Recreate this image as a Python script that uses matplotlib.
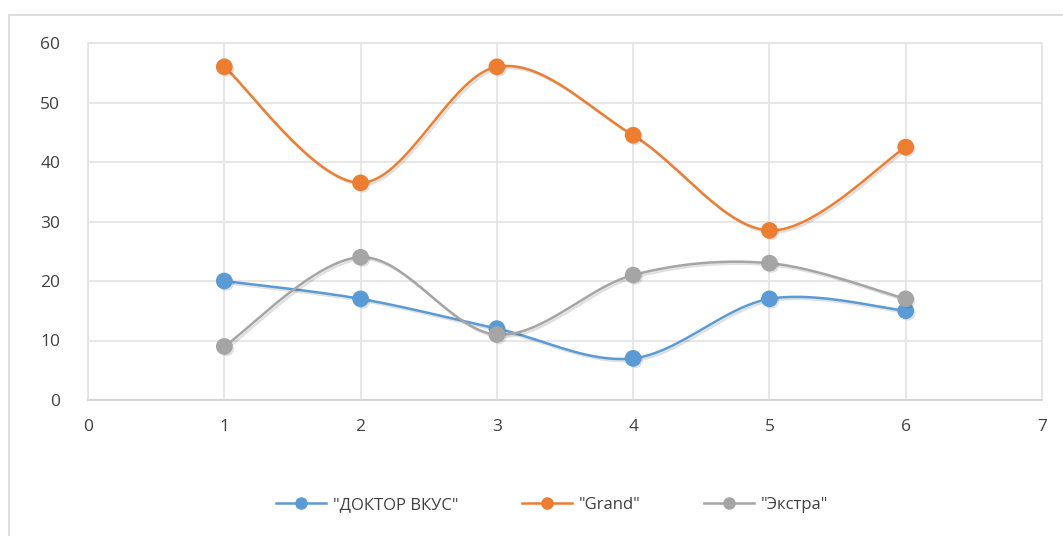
import numpy as np
import matplotlib.pyplot as plt
import matplotlib.patheffects as pe
from matplotlib.patches import Rectangle

# данные по трём маркам
x = [1, 2, 3, 4, 5, 6]
doktor = [20, 17, 12, 7, 17, 15]
grand = [56, 36.5, 56, 44.5, 28.5, 42.5]
ekstra = [9, 24, 11, 21, 23, 17]
names = ['"ДОКТОР ВКУС"', '"Grand"', '"Экстра"']
colors = ['#5B9BD5', '#ED7D31', '#A5A5A5']


def smooth(xs, ys, n=40):
    # сглаженная линия как в Excel: кривые Безье между соседними точками
    p = np.column_stack([xs, ys]).astype(float)
    p = np.vstack([p[0], p, p[-1]])
    out = []
    t = np.linspace(0, 1, n)[:, None]
    for i in range(1, len(p) - 2):
        p0 = p[i]
        p3 = p[i + 1]
        c1 = p0 + (p[i + 1] - p[i - 1]) / 6
        c2 = p3 - (p[i + 2] - p[i]) / 6
        seg = ((1 - t) ** 3) * p0 + 3 * ((1 - t) ** 2) * t * c1 + 3 * (1 - t) * t ** 2 * c2 + t ** 3 * p3
        out.append(seg)
    s = np.vstack(out)
    return s[:, 0], s[:, 1]


plt.rcParams['font.family'] = ['Open Sans', 'DejaVu Sans']
fig = plt.figure(figsize=(10.63, 5.36), dpi=100)
fig.patches.append(Rectangle((9 / 1063, -0.01), 1.02, 1 - 15 / 536 + 0.01, transform=fig.transFigure,
                             fill=False, edgecolor='#D9D9D9', linewidth=1.2))
ax = fig.add_axes([88 / 1063, 136 / 536, 954 / 1063, 357 / 536])

shadow = [pe.SimpleLineShadow(offset=(1.5, -1.5), shadow_color='#000000', alpha=0.12), pe.Normal()]
for ys, name, c in zip([doktor, grand, ekstra], names, colors):
    sx, sy = smooth(x, ys)
    ax.plot(sx, sy, color=c, linewidth=1.8, path_effects=shadow, zorder=3)
    ax.plot(x, ys, linestyle='none', marker='o', markersize=11, color=c, zorder=4,
            path_effects=[pe.SimplePatchShadow(offset=(1.5, -1.5), alpha=0.15), pe.Normal()])
    ax.plot([], [], color=c, linewidth=1.8, marker='o', markersize=8, label=name)

ax.set_xlim(0, 7)
ax.set_ylim(0, 60)
ax.set_xticks(range(0, 8))
ax.set_yticks(range(0, 61, 10))
ax.grid(True, color='#E3E3E3', linewidth=1.2)
ax.set_axisbelow(True)
for s in ax.spines.values():
    s.set_color('#E3E3E3')
    s.set_linewidth(1.2)
ax.spines['bottom'].set_color('#D0D0D0')
ax.tick_params(length=0, labelsize=12.5, colors='#404040')
ax.tick_params(axis='x', pad=14)
ax.tick_params(axis='y', pad=20)

fig.legend(loc='center', bbox_to_anchor=(552 / 1063, 1 - 505 / 536), ncol=3, frameon=False,
           fontsize=12, labelcolor='#404040', handlelength=3, columnspacing=3.8, handletextpad=0.4)

fig.savefig('out.png', dpi=100)
